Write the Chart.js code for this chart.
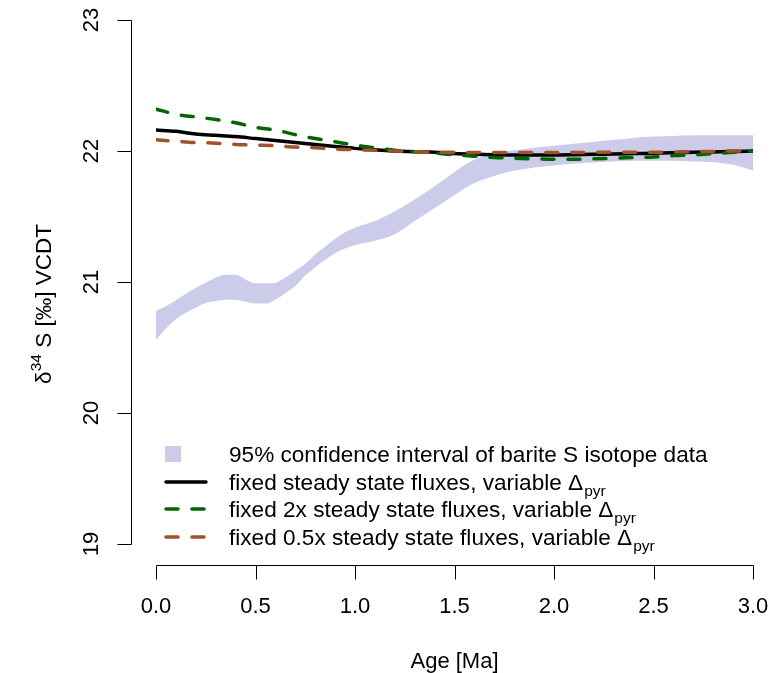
<!DOCTYPE html>
<html><head><meta charset="utf-8">
<script src="https://cdn.jsdelivr.net/npm/chart.js@4/dist/chart.umd.min.js"></script>
<style>html,body{margin:0;padding:0;background:#fff;overflow:hidden}canvas{display:block}</style>
</head><body>
<canvas id="c" width="771" height="673"></canvas>
<script>
// ---- data ----
const xTicks = [0, 0.5, 1, 1.5, 2, 2.5, 3];
const xTickLabels = ["0.0", "0.5", "1.0", "1.5", "2.0", "2.5", "3.0"];
const yTicks = [19, 20, 21, 22, 23];
const yTickLabels = ["19", "20", "21", "22", "23"];

const bandAges = [0,0.05,0.1,0.15,0.2,0.25,0.3,0.35,0.4,0.45,0.5,0.55,0.6,0.65,0.7,0.75,0.8,0.85,0.9,0.95,1.0,
                  1.1,1.2,1.3,1.4,1.5,1.6,1.7,1.8,1.9,2.0,2.1,2.2,2.3,2.4,2.5,2.6,2.7,2.8,2.9,2.95,3.0];
const bandUpper = [20.78,20.815,20.86,20.91,20.955,20.995,21.035,21.055,21.055,21.02,20.99,20.99,20.995,21.035,21.085,21.14,21.21,21.27,21.33,21.38,21.415,
                   21.465,21.54,21.63,21.73,21.84,21.935,21.985,22.005,22.025,22.04,22.055,22.07,22.085,22.1,22.11,22.115,22.12,22.12,22.12,22.12,22.12];
const bandLower = [20.56,20.645,20.715,20.765,20.805,20.84,20.855,20.865,20.865,20.85,20.835,20.835,20.865,20.915,20.97,21.05,21.11,21.17,21.22,21.255,21.28,
                   21.315,21.365,21.465,21.565,21.665,21.755,21.81,21.85,21.875,21.89,21.905,21.912,21.92,21.925,21.925,21.925,21.92,21.915,21.895,21.875,21.85];

const lineAges = [0,0.1,0.2,0.3,0.4,0.5,0.6,0.7,0.8,0.9,1.0,1.1,1.2,1.3,1.4,1.5,1.6,1.7,1.8,1.9,2.0,2.1,2.2,2.3,2.4,2.5,2.6,2.7,2.8,2.9,3.0];
const steady1x = [22.16,22.15,22.13,22.12,22.11,22.095,22.08,22.065,22.05,22.035,22.02,22.01,22.0,21.995,21.99,
                  21.98,21.975,21.972,21.97,21.97,21.97,21.972,21.975,21.977,21.98,21.983,21.986,21.99,21.993,21.996,22.0];
const steady2x = [22.32,22.28,22.26,22.24,22.215,22.18,22.16,22.125,22.095,22.07,22.045,22.025,22.005,21.995,21.985,
                  21.97,21.96,21.95,21.945,21.94,21.937,21.937,21.94,21.945,21.95,21.955,21.965,21.97,21.98,21.99,22.0];
const steady05x = [22.085,22.075,22.065,22.06,22.05,22.045,22.04,22.03,22.025,22.015,22.01,22.005,22.0,21.995,21.99,
                   21.99,21.988,21.988,21.988,21.988,21.988,21.988,21.99,21.99,21.99,21.99,21.993,21.995,21.997,22.0,22.0];

const legendLabels = ["95% confidence interval of barite S isotope data",
                      "fixed steady state fluxes, variable \u0394",
                      "fixed 2x steady state fluxes, variable \u0394",
                      "fixed 0.5x steady state fluxes, variable \u0394"];
const legendSub = ["", "pyr", "pyr", "pyr"];
const xTitle = "Age [Ma]";
const yTitleParts = ["\u03B4", "34", " S [\u2030] VCDT"];

// ---- styles ----
const FONT = '"Liberation Sans", Arial, Helvetica, sans-serif';
const BAND = 'rgb(204,204,234)';
const COLORS = ['#000000', '#006400', '#A0522D'];

const pts = (xs, ys) => xs.map((x, i) => ({x: x, y: ys[i]}));

const rStyle = {
  id: 'rStyle',
  afterDraw(chart) {
    const ctx = chart.ctx, xs = chart.scales.x, ys = chart.scales.y;
    ctx.save();
    ctx.strokeStyle = '#000'; ctx.fillStyle = '#000'; ctx.lineWidth = 1;
    ctx.setLineDash([]);
    // x axis
    const axY = 565.5;
    ctx.beginPath();
    ctx.moveTo(Math.round(xs.getPixelForValue(xTicks[0])) + 0.5, axY);
    ctx.lineTo(Math.round(xs.getPixelForValue(xTicks[xTicks.length - 1])) + 0.5, axY);
    xTicks.forEach(t => { const p = Math.round(xs.getPixelForValue(t)) + 0.5; ctx.moveTo(p, axY); ctx.lineTo(p, axY + 14); });
    ctx.stroke();
    ctx.font = '22px ' + FONT; ctx.textAlign = 'center'; ctx.textBaseline = 'alphabetic';
    xTicks.forEach((t, i) => ctx.fillText(xTickLabels[i], xs.getPixelForValue(t), 613));
    ctx.fillText(xTitle, (xs.getPixelForValue(xTicks[0]) + xs.getPixelForValue(xTicks[xTicks.length - 1])) / 2, 668);
    // y axis
    const axX = 131.5;
    ctx.beginPath();
    ctx.moveTo(axX, Math.round(ys.getPixelForValue(yTicks[0])) + 0.5);
    ctx.lineTo(axX, Math.round(ys.getPixelForValue(yTicks[yTicks.length - 1])) + 0.5);
    yTicks.forEach(t => { const p = Math.round(ys.getPixelForValue(t)) + 0.5; ctx.moveTo(axX, p); ctx.lineTo(axX - 14, p); });
    ctx.stroke();
    yTicks.forEach((t, i) => {
      ctx.save(); ctx.translate(98, ys.getPixelForValue(t)); ctx.rotate(-Math.PI / 2);
      ctx.fillText(yTickLabels[i], 0, 0); ctx.restore();
    });
    // y title
    ctx.save(); ctx.translate(51, 304); ctx.rotate(-Math.PI / 2);
    ctx.textAlign = 'left';
    ctx.font = '22.5px ' + FONT; const w0 = ctx.measureText(yTitleParts[0]).width;
    const w2 = ctx.measureText(yTitleParts[2]).width;
    ctx.font = '15.5px ' + FONT; const w1 = ctx.measureText(yTitleParts[1]).width;
    let sx = -(w0 + w1 + w2) / 2;
    ctx.font = '22.5px ' + FONT; ctx.fillText(yTitleParts[0], sx, 0); sx += w0;
    ctx.font = '15.5px ' + FONT; ctx.fillText(yTitleParts[1], sx, -10); sx += w1;
    ctx.font = '22.5px ' + FONT; ctx.fillText(yTitleParts[2], sx, 0);
    ctx.restore();
    // legend
    const rows = [454, 482, 509, 537];
    ctx.textAlign = 'left';
    rows.forEach((c, i) => {
      if (i === 0) {
        ctx.fillStyle = BAND; ctx.fillRect(165, c - 8, 16, 16);
      } else {
        const ds = chart.data.datasets[i + 1];
        ctx.strokeStyle = ds.borderColor; ctx.lineWidth = ds.borderWidth; ctx.lineCap = 'round';
        ctx.setLineDash(ds.borderDash || []);
        ctx.beginPath(); ctx.moveTo(166, c); ctx.lineTo(206, c); ctx.stroke();
        ctx.setLineDash([]);
      }
      ctx.fillStyle = '#000';
      ctx.font = '22.6px ' + FONT;
      ctx.fillText(legendLabels[i], 229, c + 8);
      if (legendSub[i]) {
        const w = ctx.measureText(legendLabels[i]).width;
        ctx.font = '15.5px ' + FONT;
        ctx.fillText(legendSub[i], 229 + w + 1, c + 14);
      }
    });
    ctx.restore();
  }
};

new Chart(document.getElementById('c'), {
  type: 'line',
  data: {
    datasets: [
      {label: 'lower', data: pts(bandAges, bandLower), borderColor: 'rgba(0,0,0,0)', borderWidth: 1,
       pointRadius: 0, fill: false, order: 4, cubicInterpolationMode: 'monotone'},
      {label: legendLabels[0], data: pts(bandAges, bandUpper), borderColor: 'rgba(0,0,0,0)', borderWidth: 1,
       backgroundColor: BAND, pointRadius: 0, fill: '-1', order: 4, cubicInterpolationMode: 'monotone'},
      {label: legendLabels[1], data: pts(lineAges, steady1x), borderColor: COLORS[0], borderWidth: 3.5,
       pointRadius: 0, fill: false, order: 3, cubicInterpolationMode: 'monotone', borderCapStyle: 'round', borderJoinStyle: 'round'},
      {label: legendLabels[2], data: pts(lineAges, steady2x), borderColor: COLORS[1], borderWidth: 3.5, borderDash: [12, 14],
       pointRadius: 0, fill: false, order: 2, cubicInterpolationMode: 'monotone', borderCapStyle: 'round', borderJoinStyle: 'round'},
      {label: legendLabels[3], data: pts(lineAges, steady05x), borderColor: COLORS[2], borderWidth: 3.5, borderDash: [12, 14],
       pointRadius: 0, fill: false, order: 1, cubicInterpolationMode: 'monotone', borderCapStyle: 'round', borderJoinStyle: 'round'}
    ]
  },
  options: {
    responsive: false,
    animation: false,
    devicePixelRatio: 1,
    layout: {padding: {left: 156, right: 18, top: 20, bottom: 129}},
    scales: {
      x: {type: 'linear', min: 0, max: 3, display: false},
      y: {type: 'linear', min: 19, max: 23, display: false}
    },
    plugins: {legend: {display: false}, tooltip: {enabled: false}},
    events: []
  },
  plugins: [rStyle]
});
</script>
</body></html>
